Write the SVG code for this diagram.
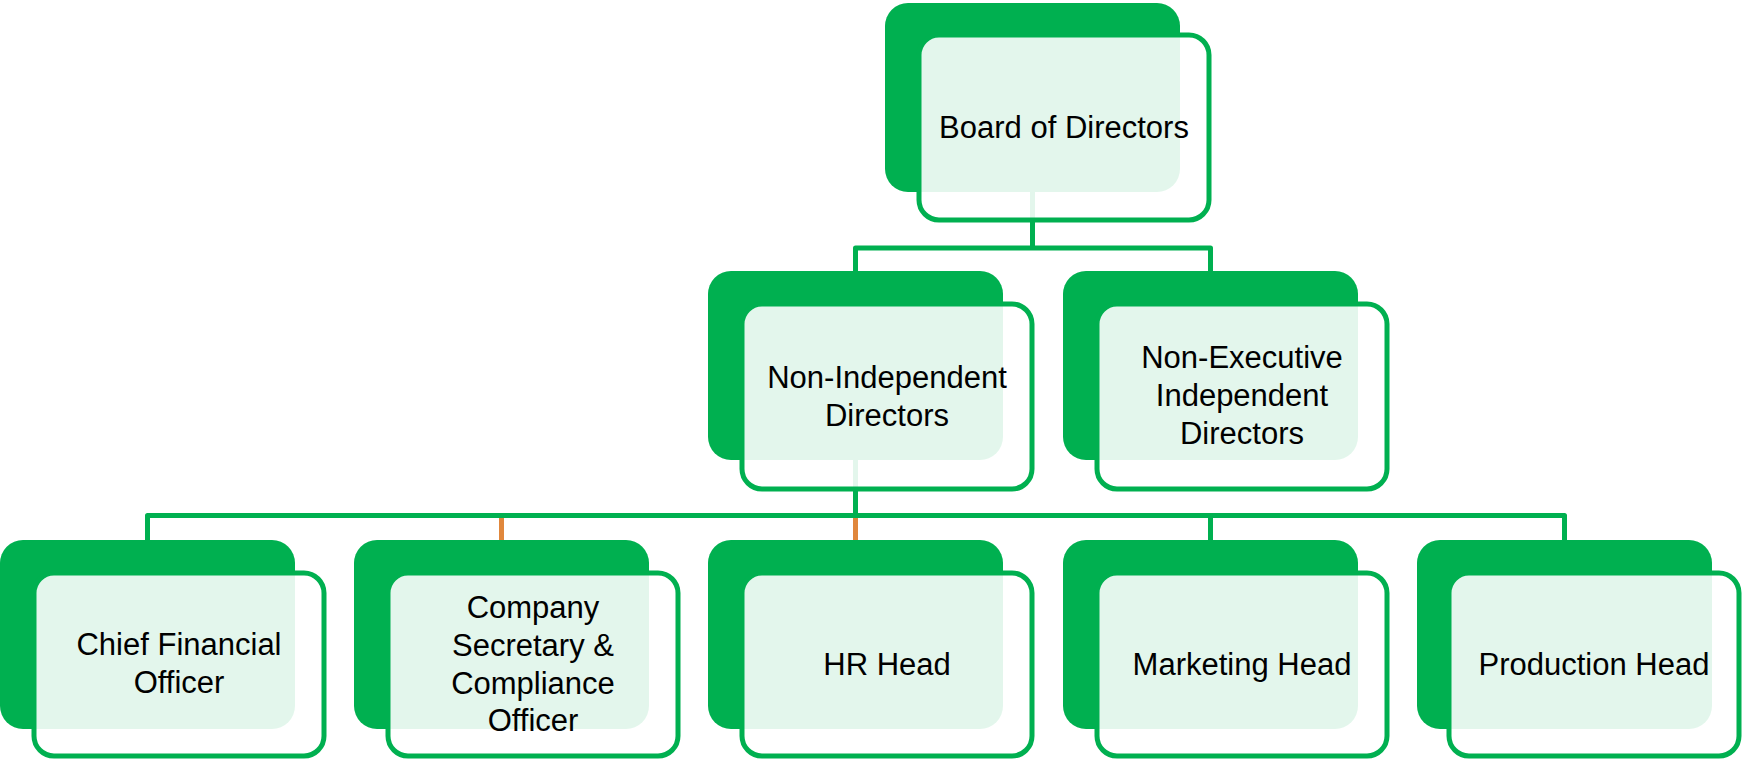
<svg xmlns="http://www.w3.org/2000/svg" width="1742" height="761" viewBox="0 0 1742 761">
  <style>
    .back { fill: #00B050; }
    .front { fill: #FFFFFF; fill-opacity: 0.89; stroke: #00B050; stroke-width: 5; }
    .link { fill: none; stroke: #00B050; stroke-width: 5; stroke-linejoin: round; }
    .link-alt { fill: none; stroke: #E0873C; stroke-width: 5; }
    .label { font-family: "Liberation Sans", Arial, sans-serif; font-size: 31px; fill: #000000; text-anchor: middle; }
  </style>

  <rect width="1742" height="761" fill="#FFFFFF"/>

  <!-- connectors sit underneath the nodes -->
  <g id="connectors">
    <!-- board to level 2 -->
    <path class="link" d="M1032.5,190 V248 M855.5,273 V248 H1210.5 V273"/>
    <!-- level 2 to level 3 (orange drops underneath) -->
    <path class="link-alt" d="M855.5,460 V515.5 H501.5 V542 M855.5,460 V542"/>
    <path class="link" d="M855.5,460 V515.5 M147.5,542 V515.5 H1564.5 V542 M1210.5,515.5 V542"/>
  </g>

  <g id="board-of-directors">
    <rect class="back" x="885" y="3" width="295" height="189" rx="23"/>
    <rect class="front" x="919" y="35" width="290" height="185" rx="20"/>
    <text class="label" x="1064" y="138">Board of Directors</text>
  </g>

  <g id="non-independent-directors">
    <rect class="back" x="708" y="271" width="295" height="189" rx="23"/>
    <rect class="front" x="742" y="304" width="290" height="185" rx="20"/>
    <text class="label" x="887" y="388">Non-Independent</text>
    <text class="label" x="887" y="426">Directors</text>
  </g>

  <g id="non-executive-independent-directors">
    <rect class="back" x="1063" y="271" width="295" height="189" rx="23"/>
    <rect class="front" x="1097" y="304" width="290" height="185" rx="20"/>
    <text class="label" x="1242" y="368">Non-Executive</text>
    <text class="label" x="1242" y="406">Independent</text>
    <text class="label" x="1242" y="444">Directors</text>
  </g>

  <g id="chief-financial-officer">
    <rect class="back" x="0" y="540" width="295" height="189" rx="23"/>
    <rect class="front" x="34" y="573" width="290" height="183" rx="20"/>
    <text class="label" x="179" y="655">Chief Financial</text>
    <text class="label" x="179" y="693">Officer</text>
  </g>

  <g id="company-secretary">
    <rect class="back" x="354" y="540" width="295" height="189" rx="23"/>
    <rect class="front" x="388" y="573" width="290" height="183" rx="20"/>
    <text class="label" x="533" y="618">Company</text>
    <text class="label" x="533" y="656">Secretary &amp;</text>
    <text class="label" x="533" y="694">Compliance</text>
    <text class="label" x="533" y="731">Officer</text>
  </g>

  <g id="hr-head">
    <rect class="back" x="708" y="540" width="295" height="189" rx="23"/>
    <rect class="front" x="742" y="573" width="290" height="183" rx="20"/>
    <text class="label" x="887" y="675">HR Head</text>
  </g>

  <g id="marketing-head">
    <rect class="back" x="1063" y="540" width="295" height="189" rx="23"/>
    <rect class="front" x="1097" y="573" width="290" height="183" rx="20"/>
    <text class="label" x="1242" y="675">Marketing Head</text>
  </g>

  <g id="production-head">
    <rect class="back" x="1417" y="540" width="295" height="189" rx="23"/>
    <rect class="front" x="1449" y="573" width="290" height="183" rx="20"/>
    <text class="label" x="1594" y="675">Production Head</text>
  </g>
</svg>
